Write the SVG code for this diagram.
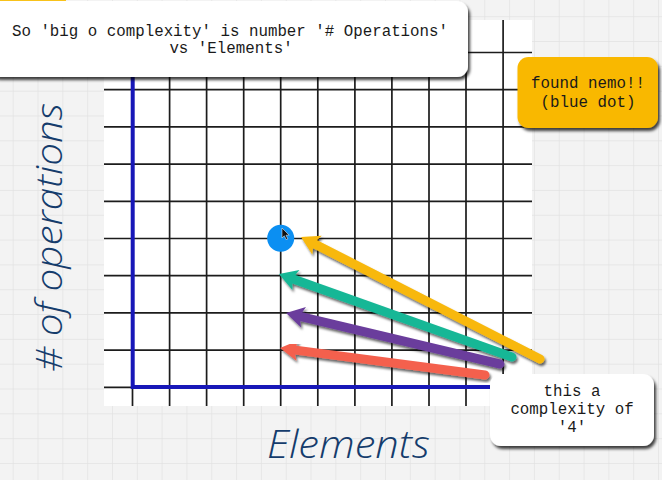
<svg xmlns="http://www.w3.org/2000/svg" width="662" height="480" viewBox="0 0 662 480">
  <defs>
    <pattern id="bggrid" patternUnits="userSpaceOnUse" x="12.7" y="16.2" width="24.82" height="24.82">
      <rect width="24.82" height="24.82" fill="#f3f3f3"/>
      <path d="M0,0 H24.82 M0,0 V24.82" stroke="#e2e2e2" stroke-width="1.4" fill="none"/>
    </pattern>
    <filter id="shadow" x="-10%" y="-10%" width="125%" height="135%">
      <feDropShadow dx="2" dy="3" stdDeviation="1.6" flood-color="#000" flood-opacity="0.75"/>
    </filter>
    <filter id="ashadow" x="-10%" y="-20%" width="125%" height="150%">
      <feDropShadow dx="1.5" dy="2.5" stdDeviation="1.3" flood-color="#000" flood-opacity="0.6"/>
    </filter>
    <marker id="headY" markerUnits="userSpaceOnUse" viewBox="-20 -12 22 24" refX="-12" refY="0" markerWidth="22" markerHeight="24" orient="auto" overflow="visible">
      <path d="M0,0 L-18,-10.5 L-14,0 L-18,10.5 Z" fill="#f8b80c"/>
    </marker>
    <marker id="headT" markerUnits="userSpaceOnUse" viewBox="-20 -12 22 24" refX="-12" refY="0" markerWidth="22" markerHeight="24" orient="auto" overflow="visible">
      <path d="M0,0 L-18,-10.5 L-14,0 L-18,10.5 Z" fill="#17b796"/>
    </marker>
    <marker id="headP" markerUnits="userSpaceOnUse" viewBox="-20 -12 22 24" refX="-12" refY="0" markerWidth="22" markerHeight="24" orient="auto" overflow="visible">
      <path d="M0,0 L-18,-10.5 L-14,0 L-18,10.5 Z" fill="#6b3e9c"/>
    </marker>
    <marker id="headR" markerUnits="userSpaceOnUse" viewBox="-20 -12 22 24" refX="-12" refY="0" markerWidth="22" markerHeight="24" orient="auto" overflow="visible">
      <path d="M0,0 L-18,-10.5 L-14,0 L-18,10.5 Z" fill="#f4604e"/>
    </marker>
  </defs>
  <style>
    .mono { font-family: "Liberation Mono", "Courier New", monospace; font-size: 15.8px; fill: #1a1a1a; text-anchor: middle; }
    .axislabel { font-family: "Open Sans", Lato, sans-serif; font-style: italic; font-weight: 300; fill: #153c6c; text-anchor: middle; }
    .grid line { stroke: #1c1c1c; stroke-width: 1.7; }
    .axis { stroke: #1717b8; stroke-width: 4; fill: none; }
    .arrow { stroke-width: 9; stroke-linecap: round; fill: none; }
    .box { filter: url(#shadow); }
  </style>

  <rect width="662" height="480" fill="url(#bggrid)"/>
  <rect x="0" y="-8" width="66" height="10" fill="#f8c21a"/>

  <g id="chart">
    <rect x="104" y="20" width="428" height="386" fill="#ffffff"/>
    <g class="grid">
      <line x1="132.5" y1="20" x2="132.5" y2="406"/>
      <line x1="169.6" y1="20" x2="169.6" y2="406"/>
      <line x1="206.6" y1="20" x2="206.6" y2="406"/>
      <line x1="243.7" y1="20" x2="243.7" y2="406"/>
      <line x1="280.7" y1="20" x2="280.7" y2="406"/>
      <line x1="317.8" y1="20" x2="317.8" y2="406"/>
      <line x1="354.9" y1="20" x2="354.9" y2="406"/>
      <line x1="391.9" y1="20" x2="391.9" y2="406"/>
      <line x1="429" y1="20" x2="429" y2="406"/>
      <line x1="466" y1="20" x2="466" y2="406"/>
      <line x1="503.1" y1="20" x2="503.1" y2="406"/>
      <line x1="104" y1="52.5" x2="532" y2="52.5"/>
      <line x1="104" y1="89.7" x2="532" y2="89.7"/>
      <line x1="104" y1="126.9" x2="532" y2="126.9"/>
      <line x1="104" y1="164.1" x2="532" y2="164.1"/>
      <line x1="104" y1="201.3" x2="532" y2="201.3"/>
      <line x1="104" y1="238.5" x2="532" y2="238.5"/>
      <line x1="104" y1="275.7" x2="532" y2="275.7"/>
      <line x1="104" y1="312.9" x2="532" y2="312.9"/>
      <line x1="104" y1="350.1" x2="532" y2="350.1"/>
      <line x1="104" y1="387.3" x2="532" y2="387.3"/>
    </g>
    <path class="axis" d="M132.7,20 V387 H500"/>
  </g>

  <g id="y-label">
    <text class="axislabel" font-size="36" transform="translate(62,237.5) rotate(-90)" x="0" y="0" textLength="269" lengthAdjust="spacingAndGlyphs"># of operations</text>
  </g>
  <g id="x-label">
    <text class="axislabel" font-size="38" x="348.4" y="458" textLength="163" lengthAdjust="spacingAndGlyphs">Elements</text>
  </g>

  <g id="nemo-dot">
    <circle cx="280.7" cy="238.3" r="13.5" fill="#0b8ff2"/>
    <path d="M282,228 L282,238 L284.3,235.8 L286.2,239.6 L287.8,238.9 L286,235.2 L289.2,235.2 Z" fill="#111" stroke="#ffffff" stroke-width="0.5"/>
  </g>

  <g id="connectors">
    <line class="arrow" x1="540" y1="359" x2="311.7" y2="242.4" stroke="#f8b80c" marker-end="url(#headY)" filter="url(#ashadow)"/>
    <line class="arrow" x1="512" y1="357" x2="290.3" y2="278" stroke="#17b796" marker-end="url(#headT)" filter="url(#ashadow)"/>
    <line class="arrow" x1="500" y1="364" x2="297.7" y2="315.8" stroke="#6b3e9c" marker-end="url(#headP)" filter="url(#ashadow)"/>
    <line class="arrow" x1="485" y1="375" x2="291.9" y2="349.6" stroke="#f4604e" marker-end="url(#headR)" filter="url(#ashadow)"/>
  </g>

  <g id="title-box">
    <rect class="box" x="-12" y="1" width="480" height="76" rx="11" fill="#ffffff"/>
    <text class="mono" x="230" y="35.5">So 'big o complexity' is number '# Operations'</text>
    <text class="mono" x="231" y="53">vs 'Elements'</text>
  </g>

  <g id="nemo-box">
    <rect class="box" x="517.5" y="57" width="140.5" height="71" rx="11" fill="#f9b800"/>
    <text class="mono" x="588" y="87.5">found nemo!!</text>
    <text class="mono" x="588" y="106.5">(blue dot)</text>
  </g>

  <g id="complexity-box">
    <rect class="box" x="490" y="374" width="164" height="72" rx="11" fill="#ffffff"/>
    <text class="mono" x="572" y="396">this a</text>
    <text class="mono" x="572" y="414">complexity of</text>
    <text class="mono" x="572" y="432">'4'</text>
  </g>
</svg>
